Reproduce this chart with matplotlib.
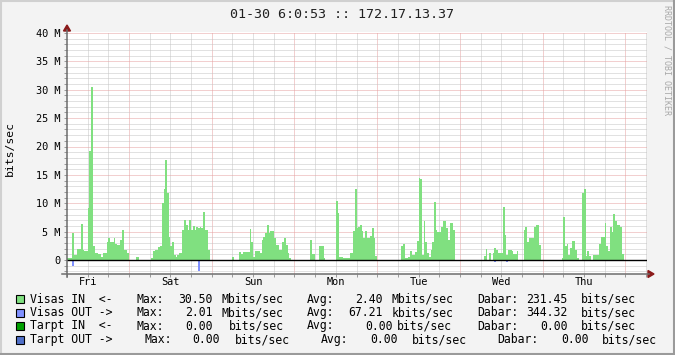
import matplotlib
matplotlib.use("Agg")
import matplotlib.pyplot as plt
import numpy as np
from matplotlib.lines import Line2D
from matplotlib.patches import Polygon, Rectangle

# --- data: 30 min averages, Mbit/s, one row per day starting Fri 06:00 ---
visas_in_days = [
    [0.3, 0.3, 0.3, 4.8, 0.9, 0.9, 2.0, 2.0, 6.3, 1.8, 1.5, 1.5, 9.1, 19.2, 30.5, 2.5,
     1.2, 1.2, 1.1, 1.1, 0.6, 1.2, 1.2, 3.1, 3.8, 3.2, 3.2, 3.8, 2.8, 2.6, 2.6, 3.5,
     5.3, 1.8, 1.8, 1.2, 0, 0, 0, 0, 0.5, 0.5, 0, 0, 0, 0, 0, 0],
    [0, 0.4, 1.6, 1.8, 1.8, 2.3, 2.5, 10.0, 12.5, 17.6, 11.8, 4.1, 2.5, 3.2, 0.9, 0.5,
     0.9, 1.2, 1.2, 5.3, 7.1, 6.2, 5.3, 7.1, 5.3, 6.0, 5.3, 5.8, 5.6, 5.8, 5.6, 8.5,
     5.3, 5.3, 1.8, 0, 0, 0, 0, 0, 0, 0, 0, 0, 0, 0, 0, 0],
    [0.5, 0, 0, 0, 1.35, 1.0, 1.35, 1.35, 1.35, 1.35, 5.5, 3.2, 0.6, 1.5, 1.6, 1.6,
     1.3, 3.5, 4.1, 4.8, 6.2, 4.7, 5.1, 5.1, 3.8, 2.6, 2.6, 1.8, 1.8, 3.2, 3.8, 2.6,
     1.3, 0.3, 0, 0, 0, 0, 0, 0, 0, 0, 0, 0, 0, 3.5, 1.1, 1.1],
    [0, 0, 2.4, 2.4, 2.4, 0.4, 0, 0, 0, 0, 0, 0, 10.4, 8.2, 0.5, 0.5,
     0.3, 0.4, 0.4, 0.4, 1.2, 1.2, 5.1, 12.5, 5.7, 5.8, 6.2, 5.1, 3.8, 5.1, 3.8, 3.8,
     4.2, 5.6, 3.8, 0.7, 0, 0, 0, 0, 0, 0, 0, 0, 0, 0, 0, 0],
    [0, 0, 2.5, 2.9, 0.4, 0.4, 0.6, 1.5, 0.9, 0.9, 1.4, 3.4, 14.4, 14.2, 0.9, 6.8,
     3.1, 1.3, 0.5, 1.8, 3.2, 10.3, 5.3, 5.0, 5.0, 5.9, 6.9, 6.9, 5.6, 3.6, 6.6, 6.5,
     5.3, 0, 0, 0, 0, 0, 0, 0, 0, 0, 0, 0, 0, 0, 0, 0],
    [0, 0, 0.7, 1.9, 0, 1.3, 0, 1.3, 2.2, 1.8, 1.2, 1.2, 1.2, 9.4, 4.4, 0.9,
     1.8, 1.8, 1.5, 1.1, 1.1, 1.6, 0, 0, 0, 5.3, 5.8, 3.1, 3.9, 3.9, 3.8, 5.9,
     6.2, 6.2, 2.6, 0, 0, 0, 0, 0, 0, 0, 0, 0, 0, 0, 0, 0.3],
    [7.6, 2.4, 2.8, 0.9, 2.2, 3.4, 3.4, 1.8, 0.4, 0, 0, 11.8, 12.5, 0.7, 1.6, 0.7,
     0, 0.9, 0.9, 0.9, 0.9, 2.8, 4.0, 4.1, 6.6, 2.4, 1.5, 5.9, 5.0, 8.1, 6.9, 6.2,
     6.2, 5.8, 1.1, 0, 0, 0, 0, 0, 0, 0, 0, 0, 0, 0, 0, 0],
]
# outgoing traffic is only visible in a few slots
visas_out_slots = [3, 8, 9, 10, 14, 76, 162, 195, 248, 253, 255, 315, 316]
visas_out_mbit = [1.1, 0.2, 0.2, 0.2, 0.15, 2.01, 0.15, 0.1, 0.35, 0.2, 0.35, 0.2, 0.2]

day_labels = ["Fri", "Sat", "Sun", "Mon", "Tue", "Wed", "Thu"]
y_major = [0, 5, 10, 15, 20, 25, 30, 35, 40]
y_major_labels = ["0", "5 M", "10 M", "15 M", "20 M", "25 M", "30 M", "35 M", "40 M"]

title = "01-30 6:0:53 :: 172.17.13.37"
legend_names = ["Visas IN  <-", "Visas OUT ->", "Tarpt IN  <-", "Tarpt OUT ->"]
legend_colors = ["#80e080", "#8090ff", "#00a000", "#5070c8"]
legend_rows = [
    ["Max:", "30.50", "Mbits/sec", "Avg:", "2.40", "Mbits/sec", "Dabar:", "231.45", "bits/sec"],
    ["Max:", "2.01", "Mbits/sec", "Avg:", "67.21", "kbits/sec", "Dabar:", "344.32", "bits/sec"],
    ["Max:", "0.00", "bits/sec", "Avg:", "0.00", "bits/sec", "Dabar:", "0.00", "bits/sec"],
    ["Max:", "0.00", "bits/sec", "Avg:", "0.00", "bits/sec", "Dabar:", "0.00", "bits/sec"],
]

vis_in = np.concatenate([np.array(d, dtype=float) for d in visas_in_days])
vis_out = np.zeros(len(vis_in))
vis_out[visas_out_slots] = visas_out_mbit
edges = np.arange(len(vis_in) + 1) * 0.5  # hours since Fri 06:00

# --- layout in pixels (675 x 355) ---
W, H = 675, 355
def fx(x):
    return x / W
def fy(y):
    return 1 - y / H

plt.rcParams["font.family"] = ["DejaVu Sans Mono"]

# plot box on whole pixels so the 1px dotted grid stays crisp
left, right, top, bottom = 67, 647, 32, 274
PXH = 579 / 168      # px per hour
Y0, PXM = 260, 5.675  # zero line, px per Mbit

fig = plt.figure(figsize=(6.75, 3.55), dpi=100, facecolor="#f3f3f3")
ax = fig.add_axes([fx(left), fy(bottom), fx(right) - fx(left), fy(top) - fy(bottom)])
ax.set_facecolor("white")
for s in ax.spines.values():
    s.set_visible(False)
ax.set_xlim(0, (right - left) / PXH)
ax.set_ylim((Y0 - bottom) / PXM, (Y0 - top) / PXM)

grey_grid = "#c4c4c4"
red_grid = "#e6a0a0"
dots = (0, (1, 1))
for h in range(6, 169, 6):
    major = (h - 18) % 24 == 0
    ax.axvline(h, color=red_grid if major else grey_grid, lw=0.72, ls=dots, zorder=0)
for v in range(-2, 41):
    if v == 0:
        continue
    ax.axhline(v, color=red_grid if v % 5 == 0 else grey_grid, lw=0.72, ls=dots, zorder=0)

ax.stairs(vis_in, edges, fill=True, color="#80e080", lw=0, antialiased=False, zorder=2)
ax.stairs(-vis_out, edges, fill=True, color="#8090ff", lw=0, antialiased=False, zorder=2)
ax.axhline(0, color="black", lw=1.0, zorder=3)

# ticks
xt = np.arange(0, 169, 6)
ax.set_xticks(xt)
ax.set_xticklabels([day_labels[(h - 6) // 24] if (h - 6) % 24 == 0 else "" for h in xt])
yt = list(range(-2, 41))
ax.set_yticks(yt)
ax.set_yticklabels([y_major_labels[y_major.index(v)] if v in y_major else "" for v in yt])
ax.tick_params(axis="x", length=2, width=0.7, color="#999999", pad=0.5, labelsize=7.4)
ax.tick_params(axis="y", length=2, width=0.7, color="#999999", pad=2.5, labelsize=7.4)

# axes lines with arrows
axis_col = "#6c6c6c"
arrow_col = "#8b1a1a"
fig.add_artist(Line2D([fx(67), fx(67)], [fy(277), fy(30)], color=axis_col, lw=1.1))
fig.add_artist(Line2D([fx(62), fx(649)], [fy(274), fy(274)], color=axis_col, lw=1.1))
fig.add_artist(Polygon([[fx(67), fy(25)], [fx(63.5), fy(31)], [fx(70.5), fy(31)]],
                       closed=True, color=arrow_col, transform=fig.transFigure))
fig.add_artist(Polygon([[fx(654), fy(274)], [fx(648), fy(270.5)], [fx(648), fy(277.5)]],
                       closed=True, color=arrow_col, transform=fig.transFigure))

# texts
fig.text(fx(342), fy(14), title, ha="center", va="center", fontsize=9.6, color="#202020")
fig.text(fx(10), fy(149), "bits/sec", rotation=90, ha="center", va="center", fontsize=8.2)
fig.text(fx(667), fy(60), "RRDTOOL / TOBI OETIKER", rotation=270, ha="center", va="center",
         fontsize=6, color="#a8a8a8")

row_y = [299.3, 312.7, 326, 339.7]
col_x = [
    [137, 179, 222, 307, 356, 392, 478, 527, 582],
    [137, 186, 222, 307, 349, 392, 478, 527, 582],
    [137, 186, 230, 307, 366, 398, 478, 541, 582],
    [145, 193, 236, 321, 371, 413, 498, 562, 603],
]
for r in range(4):
    y = row_y[r]
    fig.add_artist(Rectangle((fx(15.5), fy(y + 4)), fx(8), 8 / H, facecolor=legend_colors[r],
                             edgecolor="black", lw=0.8, transform=fig.transFigure))
    fig.text(fx(30), fy(y), legend_names[r], ha="left", va="center", fontsize=8.3)
    for x, s in zip(col_x[r], legend_rows[r]):
        fig.text(fx(x - 0.7), fy(y), s, ha="left", va="center", fontsize=8.3)

# frame
fig.add_artist(Line2D([0, 1], [fy(0.5), fy(0.5)], color="#d0d0d0", lw=1.5))
fig.add_artist(Line2D([fx(0.5), fx(0.5)], [0, 1], color="#d0d0d0", lw=1.5))
fig.add_artist(Line2D([0, 1], [fy(354), fy(354)], color="#9a9a9a", lw=1.5))
fig.add_artist(Line2D([fx(674), fx(674)], [0, 1], color="#9a9a9a", lw=1.5))

fig.savefig("out.png", dpi=100, facecolor=fig.get_facecolor())
